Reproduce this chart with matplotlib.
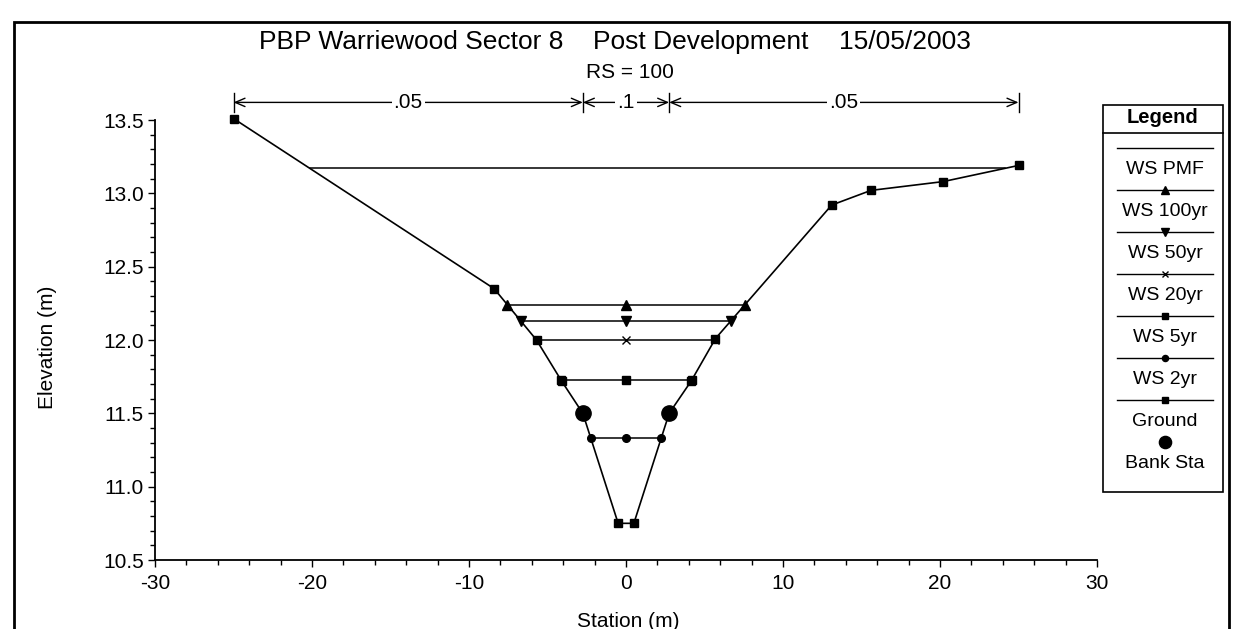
import matplotlib

matplotlib.use("Agg")
import matplotlib.pyplot as plt
import numpy as np
from matplotlib.lines import Line2D
from matplotlib.patches import Rectangle
from matplotlib.ticker import MultipleLocator

plt.rcParams["font.family"] = ["Liberation Sans", "DejaVu Sans"]
plt.rcParams["axes.unicode_minus"] = False

# ground survey (station m, elevation m)
ground_sta = [-25.0, -8.4, -5.7, -4.1, -2.75, -0.5, 0.5, 2.75, 4.15, 5.7, 13.1, 15.6, 20.2, 25.0]
ground_elev = [13.51, 12.35, 12.0, 11.72, 11.5, 10.75, 10.75, 11.5, 11.72, 12.01, 12.92, 13.02, 13.08, 13.19]

# bank stations
bank_sta = [-2.75, 2.75]
bank_elev = [11.5, 11.5]

# water surface profiles
ws_names = ["WS PMF", "WS 100yr", "WS 50yr", "WS 20yr", "WS 5yr", "WS 2yr"]
ws_elev = [13.17, 12.24, 12.13, 12.0, 11.73, 11.33]
ws_markers = [None, "^", "v", "x", "s", "o"]
ws_msize = [0, 7, 7, 6, 6, 5.5]

# Manning's n values between breaks
n_breaks = [-25.0, -2.75, 2.75, 25.0]
n_values = [".05", ".1", ".05"]

W, H = 1236, 629


def fx(px):
    return px / W


def fy(py):
    return 1 - py / H


fig = plt.figure(figsize=(W / 100, H / 100), dpi=100)
ax = fig.add_axes([fx(155), fy(560), fx(1097) - fx(155), fy(120) - fy(560)])

# water surfaces: edges where they cut the ground
i_low = int(np.argmin(ground_elev))
left_sta, left_elev = ground_sta[: i_low + 1], ground_elev[: i_low + 1]
right_sta, right_elev = ground_sta[i_low + 1 :], ground_elev[i_low + 1 :]
for name, z, mk, ms in zip(ws_names, ws_elev, ws_markers, ws_msize):
    xl = np.interp(z, left_elev[::-1], left_sta[::-1])
    xr = np.interp(z, right_elev, right_sta)
    xs = [xl, (xl + xr) / 2, xr]
    ax.plot(xs, [z] * 3, color="black", lw=1.1, marker=mk, ms=ms,
            mew=1.0, zorder=2, clip_on=False)

ax.plot(ground_sta, ground_elev, color="black", lw=1.2, marker="s", ms=6,
        zorder=3, clip_on=False)
ax.plot(bank_sta, bank_elev, "o", color="black", ms=11, zorder=4, clip_on=False)

# Manning's n annotation line above the plot
yn = 13.62
for x0, x1, lab in zip(n_breaks[:-1], n_breaks[1:], n_values):
    mid = (x0 + x1) / 2
    for end in (x0, x1):
        ax.annotate("", xy=(end, yn), xytext=(mid, yn), annotation_clip=False,
                    arrowprops=dict(arrowstyle="->,head_length=0.7,head_width=0.3",
                                    lw=1.0, color="black", shrinkA=0, shrinkB=0))
    ax.text(mid, yn, lab, ha="center", va="center", fontsize=15, zorder=5,
            bbox=dict(facecolor="white", edgecolor="none", pad=1.5))
for b in n_breaks:
    ax.plot([b, b], [yn - 0.065, yn + 0.065], color="black", lw=1.0, clip_on=False)

ax.set_xlim(-30, 30)
ax.set_ylim(10.5, 13.5)
ax.set_xticks(np.arange(-30, 31, 10))
ax.set_yticks(np.arange(10.5, 13.51, 0.5))
ax.set_yticklabels([f"{v:.1f}" for v in np.arange(10.5, 13.51, 0.5)])
ax.xaxis.set_minor_locator(MultipleLocator(2))
ax.yaxis.set_minor_locator(MultipleLocator(0.1))
ax.tick_params(which="major", length=5, width=1, labelsize=15)
ax.tick_params(axis="x", which="major", pad=5)
ax.tick_params(axis="y", which="major", pad=3)
ax.tick_params(which="minor", length=3.5, width=1)
for s in ("top", "right"):
    ax.spines[s].set_visible(False)
for s in ("left", "bottom"):
    ax.spines[s].set_linewidth(1.3)

ax.set_xlabel("Station (m)", fontsize=15)
ax.set_ylabel("Elevation (m)", fontsize=15)
ax.xaxis.set_label_coords(0.502, -0.118)
ax.yaxis.set_label_coords(-0.104, 0.484)

# titles
fig.text(fx(259), fy(42), "PBP Warriewood Sector 8", fontsize=19, va="center")
fig.text(fx(593), fy(42), "Post Development", fontsize=19, va="center")
fig.text(fx(839), fy(42), "15/05/2003", fontsize=19, va="center")
fig.text(fx(630), fy(73), "RS = 100", fontsize=15, ha="center", va="center")

# outer frame
fig.add_artist(Rectangle((fx(14), fy(660)), fx(1229) - fx(14), fy(22) - fy(660),
                         transform=fig.transFigure, fill=False, lw=2, ec="black"))

# legend box
lx0, lx1, ly0, ly1 = 1103, 1223, 105, 492
fig.add_artist(Rectangle((fx(lx0), fy(ly1)), fx(lx1) - fx(lx0), fy(ly0) - fy(ly1),
                         transform=fig.transFigure, fill=False, lw=1.2, ec="black"))
fig.add_artist(Line2D([fx(lx0), fx(lx1)], [fy(133), fy(133)],
                      transform=fig.transFigure, color="black", lw=1.2))
fig.text(fx((lx0 + lx1) / 2), fy(118), "Legend", fontsize=14.5, fontweight="bold",
         ha="center", va="center")

leg_labels = ws_names + ["Ground", "Bank Sta"]
leg_markers = ws_markers + ["s", "o"]
leg_msize = ws_msize + [6, 11]
for i, (lab, mk, ms) in enumerate(zip(leg_labels, leg_markers, leg_msize)):
    yl = 148 + 42 * i
    if lab != "Bank Sta":
        fig.add_artist(Line2D([fx(1117), fx(1213)], [fy(yl), fy(yl)],
                              transform=fig.transFigure, color="black", lw=1.0))
    if mk is not None:
        fig.add_artist(Line2D([fx(1165)], [fy(yl)], transform=fig.transFigure,
                              color="black", marker=mk, ms=ms * 0.8, mew=1.0, lw=0))
    fig.text(fx(1165), fy(170 + 42 * i), lab, fontsize=14, ha="center", va="center")

fig.savefig("out.png", dpi=100)
